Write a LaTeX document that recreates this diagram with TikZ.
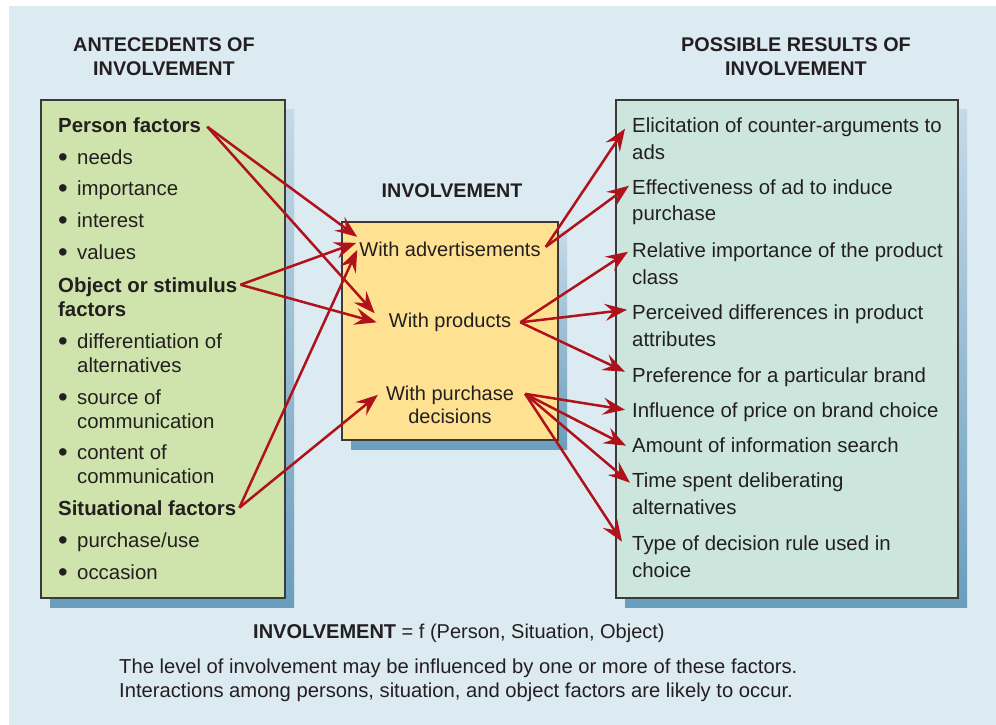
\documentclass[tikz,border=0pt]{standalone}
\usepackage{fontspec}
\setmainfont{Liberation Sans}
\usetikzlibrary{arrows.meta,calc}
\definecolor{bg}{HTML}{DCEAF2}
\definecolor{greenbox}{HTML}{CFE4AC}
\definecolor{yellowbox}{HTML}{FEE292}
\definecolor{mintbox}{HTML}{CCE6DD}
\definecolor{shadtop}{HTML}{C5DAE7}
\definecolor{shadbot}{HTML}{6A9EBD}
\definecolor{arrowred}{HTML}{B0121B}
\definecolor{ink}{HTML}{231F20}
\definecolor{edgegray}{HTML}{3A3A3A}
\newcommand{\bitem}{\makebox[19pt][l]{\raisebox{-2.2pt}{\scalebox{1.35}{\textbullet}}}}
\begin{document}
\begin{tikzpicture}[x=1pt,y=-1pt,
  txt/.style={anchor=base west, inner sep=0pt, text=ink, font=\fontsize{20.4}{24}\selectfont},
  btxt/.style={anchor=base west, inner sep=0pt, text=ink, font=\fontsize{20.4}{24}\selectfont\bfseries},
  ctxt/.style={anchor=base, inner sep=0pt, text=ink, font=\fontsize{20}{24}\selectfont},
  hdr/.style={anchor=base, inner sep=0pt, text=ink, font=\fontsize{19.8}{22}\selectfont\bfseries},
  panel/.style={draw=edgegray, line width=1.4pt},
  shadowbox/.style={top color=shadtop, bottom color=shadbot},
  link/.style={draw=arrowred, line width=2.5pt, -{Stealth[length=22pt,width=17pt,inset=8pt]}}
]
\useasboundingbox (0,0) rectangle (996,725);
\fill[white] (0,0) rectangle (996,725);
\fill[bg] (9,6) rectangle (996,725);

% panels with shadows
\shade[shadowbox] (50,109) rectangle (294,607);
\filldraw[panel, fill=greenbox] (41,100) rectangle (285,598);
\shade[shadowbox] (351,231) rectangle (567,449);
\filldraw[panel, fill=yellowbox] (342,222) rectangle (558,440);
\shade[shadowbox] (625,109) rectangle (967,607);
\filldraw[panel, fill=mintbox] (616,100) rectangle (958,598);

% headers
\node[hdr] (h1) at (164,52) {ANTECEDENTS OF};
\node[hdr] (h1b) at (164,76) {INVOLVEMENT};
\node[hdr] (h3) at (796,52) {POSSIBLE RESULTS OF};
\node[hdr] (h3b) at (796,76) {INVOLVEMENT};
\node[hdr, font=\fontsize{19.7}{22}\selectfont\bfseries] (h2) at (452,197) {INVOLVEMENT};

% left panel
\node[btxt] (pf) at (58,132.5) {Person factors};
\node[txt] (n1) at (58,164) {\bitem needs};
\node[txt] (n2) at (58,195.5) {\bitem importance};
\node[txt] (n3) at (58,227.5) {\bitem interest};
\node[txt] (n4) at (58,259.5) {\bitem values};
\node[btxt] (os) at (58,292) {Object or stimulus};
\node[btxt] (osb) at (58,316) {factors};
\node[txt] (o1) at (58,348.5) {\bitem differentiation of};
\node[txt] (o1b) at (77,372.5) {alternatives};
\node[txt] (o2) at (58,404.5) {\bitem source of};
\node[txt] (o2b) at (77,428) {communication};
\node[txt] (o3) at (58,459.5) {\bitem content of};
\node[txt] (o3b) at (77,483.5) {communication};
\node[btxt] (sf) at (58,515) {Situational factors};
\node[txt] (s1) at (58,547.5) {\bitem purchase/use};
\node[txt] (s2) at (58,579.5) {\bitem occasion};

% middle panel
\node[ctxt] (ads) at (450,256) {With advertisements};
\node[ctxt] (prod) at (450,327.5) {With products};
\node[ctxt] (purch) at (450,400) {With purchase};
\node[ctxt] (purchb) at (450,423.5) {decisions};

% right panel
\node[txt] (r1) at (632,132) {Elicitation of counter-arguments to};
\node[txt] (r1b) at (632,159) {ads};
\node[txt] (r2) at (632,194) {Effectiveness of ad to induce};
\node[txt] (r2b) at (632,220.5) {purchase};
\node[txt] (r3) at (632,257) {Relative importance of the product};
\node[txt] (r3b) at (632,284) {class};
\node[txt] (r4) at (632,319) {Perceived differences in product};
\node[txt] (r4b) at (632,346) {attributes};
\node[txt] (r5) at (632,382) {Preference for a particular brand};
\node[txt] (r6) at (632,417) {Influence of price on brand choice};
\node[txt] (r7) at (632,452) {Amount of information search};
\node[txt] (r8) at (632,487) {Time spent deliberating};
\node[txt] (r8b) at (632,514) {alternatives};
\node[txt] (r9) at (632,550) {Type of decision rule used in};
\node[txt] (r9b) at (632,577) {choice};

% bottom text
\node[txt, font=\fontsize{20}{24}\selectfont] (eq) at (253,638) {{\bfseries INVOLVEMENT} = f (Person, Situation, Object)};
\node[txt, font=\fontsize{20.2}{24}\selectfont] (note1) at (119,673) {The level of involvement may be influenced by one or more of these factors.};
\node[txt, font=\fontsize{20.2}{24}\selectfont] (note2) at (119,697) {Interactions among persons, situation, and object factors are likely to occur.};

% arrows: antecedents -> involvement
\draw[link] ($(pf.east)+(6,1.5)$) -- ($(ads.west)+(-2,-12)$);
\draw[link] ($(pf.east)+(6,1.5)$) -- ($(prod.west)+(-14,-9)$);
\draw[link] ($(os.east)+(3,-2)$) -- ($(ads.west)+(-3,-6)$);
\draw[link] ($(os.east)+(3,-2)$) -- ($(prod.west)+(-12,0)$);
\draw[link] ($(sf.east)+(3,0)$) -- ($(ads.west)+(-2,1)$);
\draw[link] ($(sf.east)+(3,0)$) -- ($(purch.west)+(-8,0)$);

% arrows: involvement -> results
\draw[link] ($(ads.east)+(5,-2)$) -- ($(r1.west)+(-7,2)$);
\draw[link] ($(ads.east)+(5,-2)$) -- ($(r2.west)+(-3,-1)$);
\draw[link] ($(prod.east)+(9,0)$) -- ($(r3.west)+(-4,0)$);
\draw[link] ($(prod.east)+(9,0)$) -- ($(r4.west)+(-5,-4)$);
\draw[link] ($(prod.east)+(9,0)$) -- ($(r5.west)+(-7,-5)$);
\draw[link] ($(purch.east)+(11,-1)$) -- ($(r6.west)+(-7,-2)$);
\draw[link] ($(purch.east)+(11,-1)$) -- ($(r7.west)+(-6,1)$);
\draw[link] ($(purch.east)+(11,-1)$) -- ($(r8.west)+(-2,1)$);
\draw[link] ($(purch.east)+(11,-1)$) -- ($(r9.west)+(-10,-3)$);
\end{tikzpicture}
\end{document}
